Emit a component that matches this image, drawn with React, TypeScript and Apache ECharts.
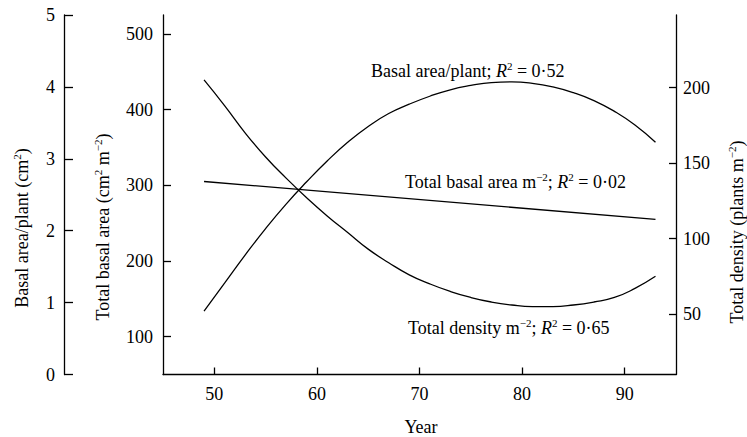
import React, { useEffect, useRef } from "react";
import * as echarts from "echarts";

// Years of the fitted curves
const years = [49, 51, 53, 55, 57, 59, 61, 63, 65, 67, 69, 71, 73, 75, 77, 79, 81, 83, 85, 87, 89, 91, 93];
// Basal area per plant (cm2), left outer axis
const basalPerPlant = [0.88, 1.27, 1.66, 2.03, 2.37, 2.68, 2.97, 3.23, 3.45, 3.63, 3.76, 3.87, 3.96, 4.02, 4.06, 4.07, 4.05, 4.0, 3.92, 3.81, 3.66, 3.47, 3.23];
// Total density (plants m-2), right axis
const density = [205, 188, 170, 154, 140, 127, 115, 104, 93, 84, 76, 70, 65, 61, 58, 56, 55, 55, 56, 58, 61, 67, 75];
// Total basal area (cm2 m-2), straight regression line
const totalBasalYears = [49, 93];
const totalBasal = [305, 255];

// Tick labels
const xTicks = [50, 60, 70, 80, 90];
const basalPlantTicks = [0, 1, 2, 3, 4, 5];
const totalBasalTicks = [100, 200, 300, 400, 500];
const densityTicks = [50, 100, 150, 200];

const FONT = "'Liberation Serif', 'Times New Roman', serif";
const FS = 18;

export default function App() {
  const ref = useRef<HTMLDivElement>(null);
  useEffect(() => {
    if (!ref.current) return;
    const chart = echarts.init(ref.current, null, { renderer: "svg" });
    const black = "#000";
    const axisCommon = {
      axisLine: { show: true, lineStyle: { color: black, width: 1.3 } },
      splitLine: { show: false },
      axisLabel: { color: black, fontFamily: FONT, fontSize: FS },
    };
    const rich = {
      sup: { fontSize: 11, fontFamily: FONT, fill: black, color: black, verticalAlign: "top", lineHeight: 11 },
      it: { fontSize: FS, fontFamily: FONT, fontStyle: "italic", fill: black, color: black, lineHeight: 22 },
      n: { fontSize: FS, fontFamily: FONT, fill: black, color: black, lineHeight: 22 },
    };
    const txt = (text: string, x: number, y: number, opts: any = {}) => ({
      type: "text",
      x,
      y,
      rotation: opts.rotation || 0,
      style: {
        text,
        rich,
        fontSize: FS,
        fontFamily: FONT,
        fill: black,
        align: opts.align || "left",
        textAlign: opts.align || "left",
        verticalAlign: "middle",
        textVerticalAlign: "middle",
      },
    });
    const lineStyle = { color: black, width: 1.3 };
    chart.setOption({
      animation: false,
      backgroundColor: "#fff",
      grid: { left: 163, right: 71, top: 15, bottom: 62.5, containLabel: false },
      xAxis: {
        type: "value",
        min: 45,
        max: 95,
        ...axisCommon,
        axisTick: { show: true, inside: true, length: 7, lineStyle: { color: black, width: 1.3 }, customValues: xTicks },
        axisLabel: { ...axisCommon.axisLabel, margin: 10, customValues: xTicks },
      },
      yAxis: [
        {
          type: "value",
          min: 0,
          max: 5,
          interval: 1,
          position: "left",
          offset: 99,
          ...axisCommon,
          axisTick: { show: true, inside: true, length: 9, lineStyle: { color: black, width: 1.3 }, customValues: basalPlantTicks },
          axisLabel: { ...axisCommon.axisLabel, margin: 9, customValues: basalPlantTicks },
        },
        {
          type: "value",
          min: 50,
          max: 525,
          position: "left",
          offset: 0,
          ...axisCommon,
          axisTick: { show: true, inside: true, length: 8, lineStyle: { color: black, width: 1.3 }, customValues: totalBasalTicks },
          axisLabel: { ...axisCommon.axisLabel, margin: 10, customValues: totalBasalTicks },
        },
        {
          type: "value",
          min: 10,
          max: 248,
          position: "right",
          offset: 0,
          ...axisCommon,
          axisTick: { show: true, inside: true, length: 7, lineStyle: { color: black, width: 1.3 }, customValues: densityTicks },
          axisLabel: { ...axisCommon.axisLabel, margin: 7, customValues: densityTicks },
        },
      ],
      series: [
        {
          name: "Basal area/plant",
          type: "line",
          yAxisIndex: 0,
          smooth: true,
          symbol: "none",
          lineStyle,
          data: years.map((y, i) => [y, basalPerPlant[i]]),
        },
        {
          name: "Total basal area",
          type: "line",
          yAxisIndex: 1,
          symbol: "none",
          lineStyle,
          data: totalBasalYears.map((y, i) => [y, totalBasal[i]]),
        },
        {
          name: "Total density",
          type: "line",
          yAxisIndex: 2,
          smooth: true,
          symbol: "none",
          lineStyle,
          data: years.map((y, i) => [y, density[i]]),
        },
      ],
      graphic: [
        txt("{n|Basal area/plant (cm}{sup|2}{n|)}", 22, 228, { rotation: Math.PI / 2, align: "center" }),
        txt("{n|Total basal area (cm}{sup|2}{n| m}{sup|\u22122}{n|)}", 103, 227, { rotation: Math.PI / 2, align: "center" }),
        txt("{n|Total density (plants m}{sup|\u22122}{n|)}", 737, 232, { rotation: Math.PI / 2, align: "center" }),
        txt("{n|Year}", 421, 427, { align: "center" }),
        txt("{n|Basal area/plant; }{it|R}{sup|2}{n| = 0\u00b752}", 371, 71),
        txt("{n|Total basal area m}{sup|\u22122}{n|; }{it|R}{sup|2}{n| = 0\u00b702}", 626, 182, { align: "right" }),
        txt("{n|Total density m}{sup|\u22122}{n|; }{it|R}{sup|2}{n| = 0\u00b765}", 408, 328),
      ],
    });
    return () => chart.dispose();
  }, []);
  return <div ref={ref} style={{ position: "fixed", left: 0, top: 0, width: 747, height: 437 }} />;
}
